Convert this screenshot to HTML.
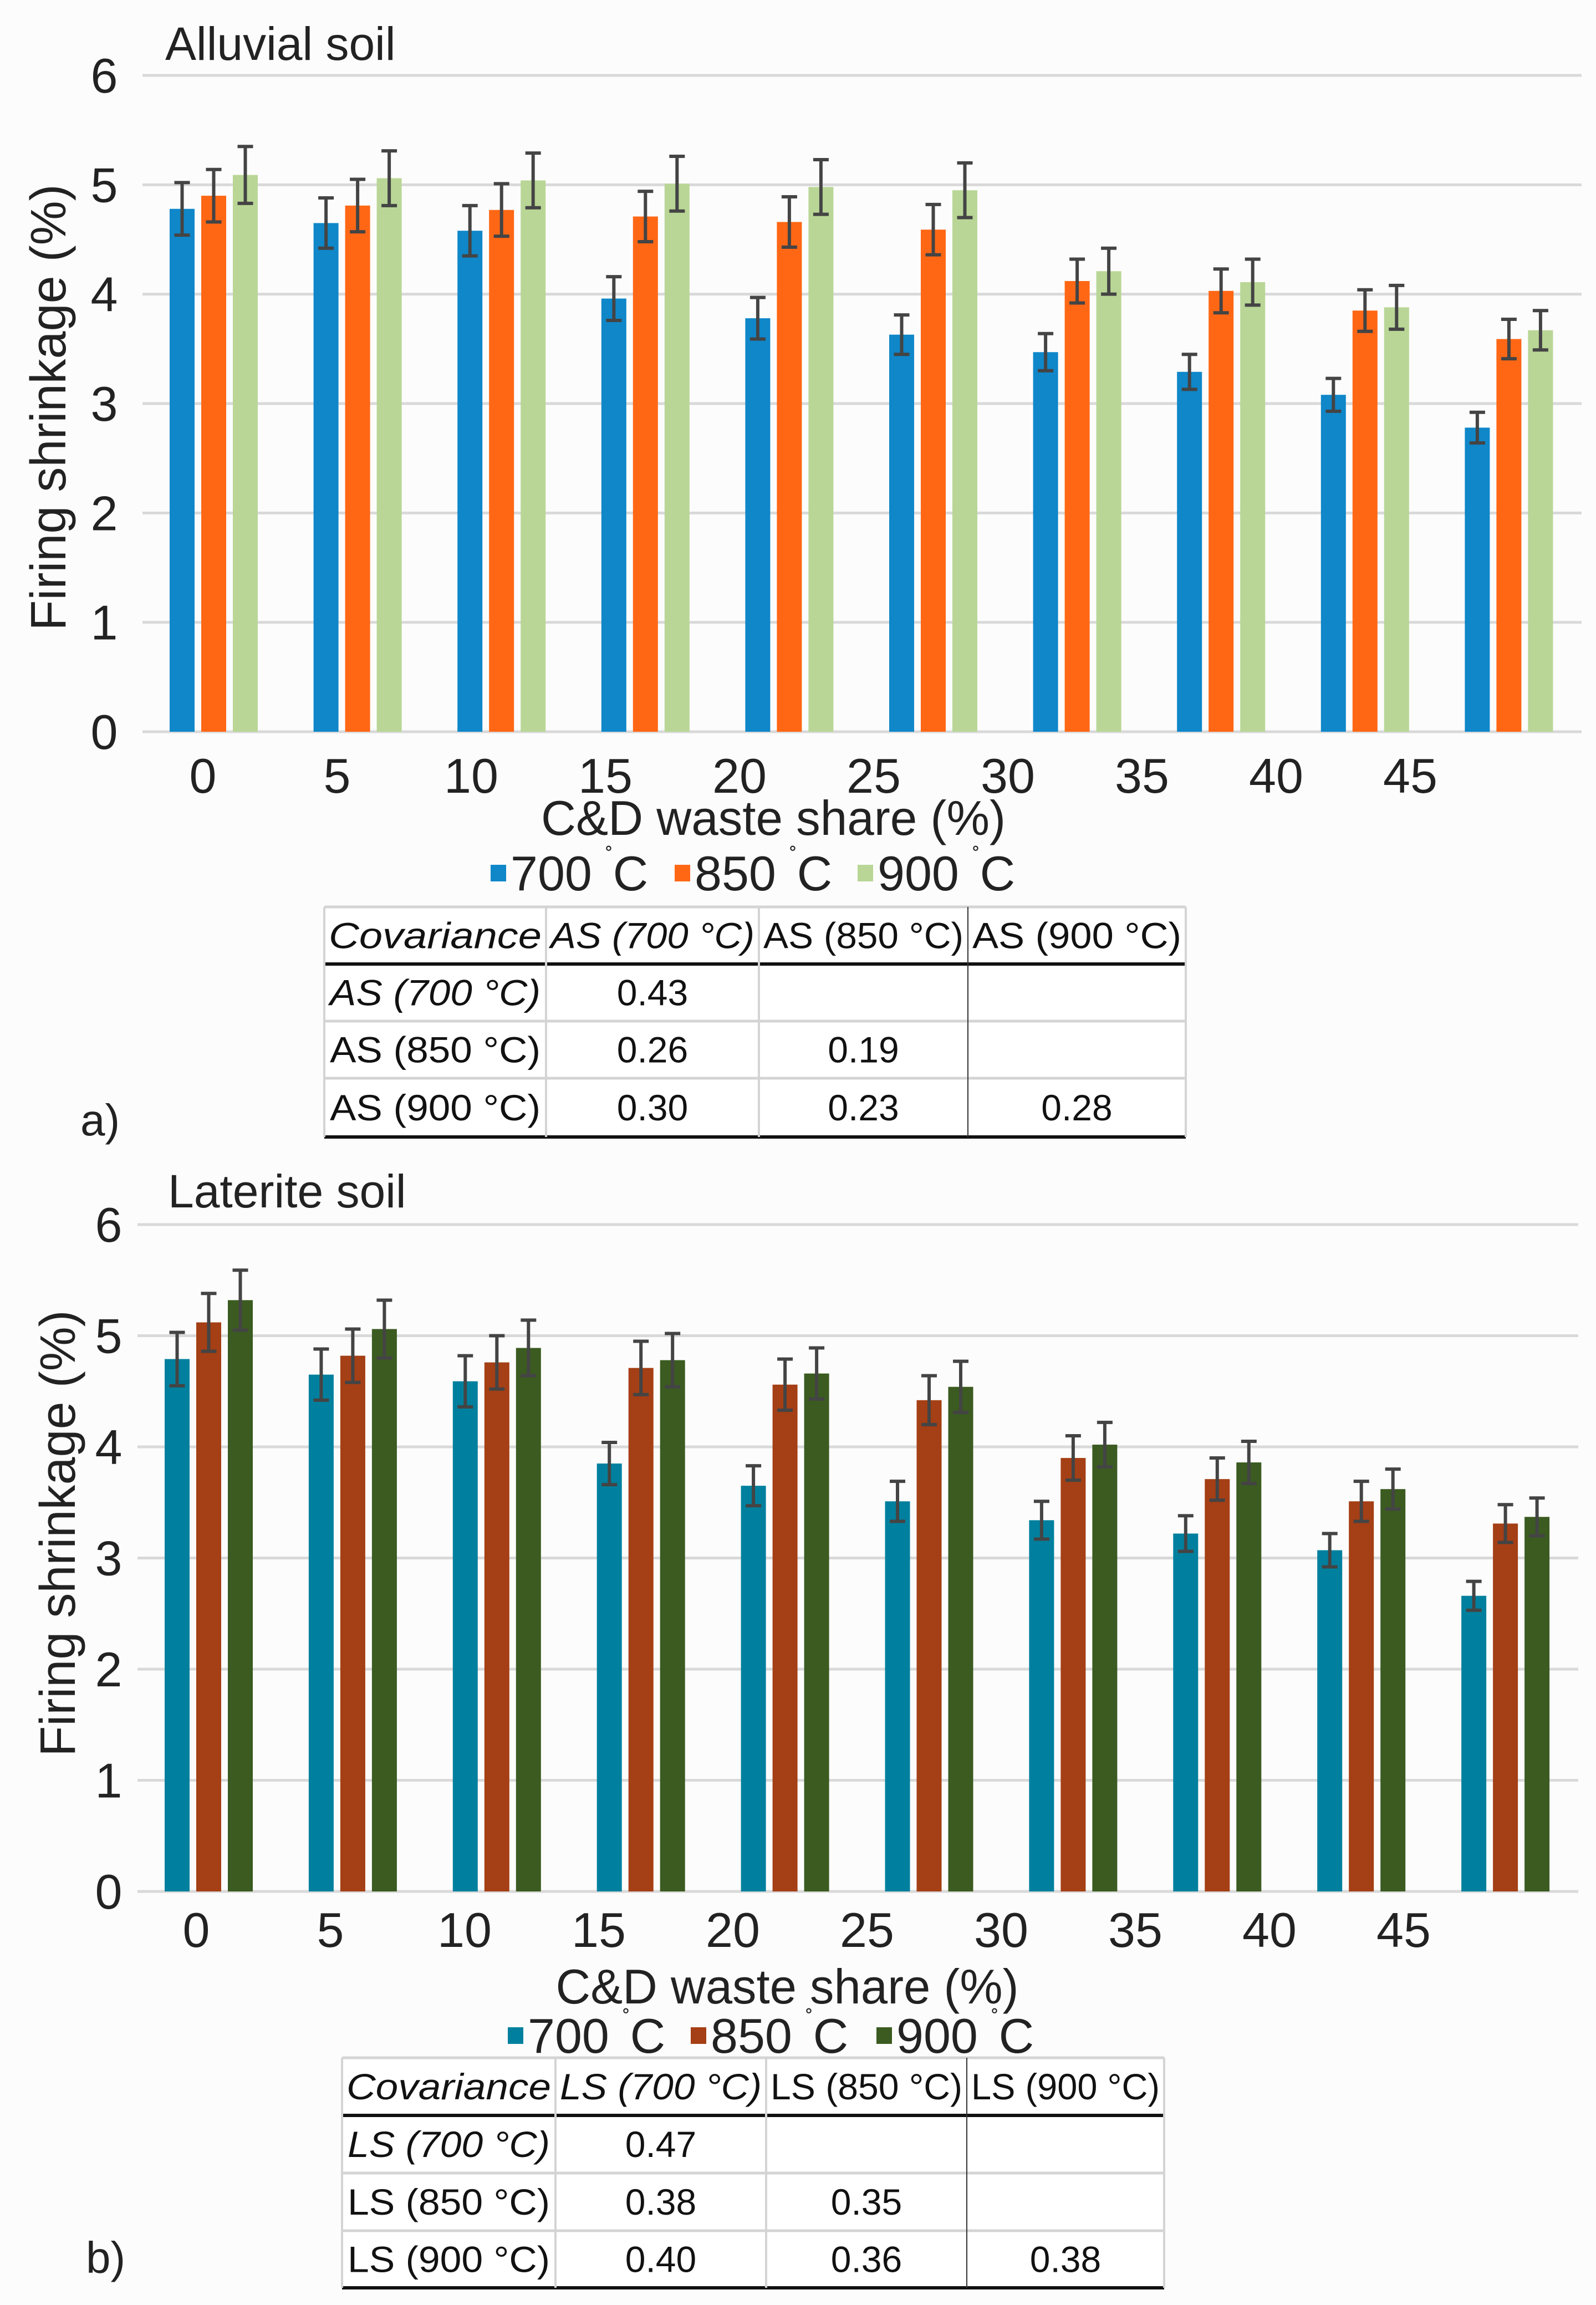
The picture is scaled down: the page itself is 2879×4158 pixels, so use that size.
<!DOCTYPE html>
<html><head><meta charset="utf-8"><style>
html,body{margin:0;padding:0;background:#fcfcfc}
svg{display:block;font-family:"Liberation Sans",sans-serif}
</style></head><body>
<svg id="fig" width="2879" height="4158" viewBox="0 0 2879 4158" xmlns="http://www.w3.org/2000/svg">
<rect x="0" y="0" width="2879" height="4158" fill="#fcfcfc"/>
<g id="chartA"></g>
<g id="chartB"></g>
<g id="tableA"></g>
<g id="tableB"></g>
<text x="145" y="2048" font-size="80" fill="#222">a)</text>
<text x="155" y="4100" font-size="80" fill="#222">b)</text>
</svg>
<script>
const categories = ["0","5","10","15","20","25","30","35","40","45"];
const yTicks = [0,1,2,3,4,5,6];
const seriesNames = ["700","850","900"];
const a700 = [4.78,4.65,4.58,3.96,3.78,3.63,3.47,3.29,3.08,2.78];
const a850 = [4.90,4.81,4.77,4.71,4.66,4.59,4.12,4.03,3.85,3.59];
const a900 = [5.09,5.06,5.04,5.01,4.98,4.95,4.21,4.11,3.88,3.67];
const aErr700 = [0.24,0.23,0.23,0.20,0.19,0.18,0.17,0.16,0.15,0.14];
const aErr850 = [0.24,0.24,0.24,0.23,0.23,0.23,0.20,0.20,0.19,0.18];
const aErr900 = [0.26,0.25,0.25,0.25,0.25,0.25,0.21,0.21,0.20,0.18];
const b700 = [4.79,4.65,4.59,3.85,3.65,3.51,3.34,3.22,3.07,2.66];
const b850 = [5.12,4.82,4.76,4.71,4.56,4.42,3.90,3.71,3.51,3.31];
const b900 = [5.32,5.06,4.89,4.78,4.66,4.54,4.02,3.86,3.62,3.37];
const bErr700 = [0.24,0.23,0.23,0.19,0.18,0.18,0.17,0.16,0.15,0.13];
const bErr850 = [0.26,0.24,0.24,0.24,0.23,0.22,0.20,0.19,0.18,0.17];
const bErr900 = [0.27,0.26,0.25,0.24,0.23,0.23,0.20,0.19,0.18,0.17];
const covA = [["0.43","",""],["0.26","0.19",""],["0.30","0.23","0.28"]];
const covB = [["0.47","",""],["0.38","0.35",""],["0.40","0.36","0.38"]];

const NS="http://www.w3.org/2000/svg";
function mk(parent,tag,attrs,text){const e=document.createElementNS(NS,tag);for(const k in attrs)e.setAttribute(k,attrs[k]);if(text!==undefined)e.textContent=text;parent.appendChild(e);return e;}

function drawChart(g,cfg){
  const {left,right,top,bottom,vals,errs,colors,title,titleX,titleY,yTitleX,yTitleY,xLabY,tickX0,tickStep,xTitleY,xTitleCX,xTitleW,legY,legX,prefix,tickLabelX} = cfg;
  const yScale=v=>bottom-(v/6)*(bottom-top);
  const catW=(right-left)/categories.length;
  const xCat=i=>left+i*catW;
  yTicks.forEach(t=>{
    const l=mk(g,'line',{x1:left,x2:right,y1:yScale(t),y2:yScale(t),stroke:'#d9d9d9','stroke-width':5});
    
    
    const tx=mk(g,'text',{x:tickLabelX,y:yScale(t)+31,'font-size':88,'text-anchor':'middle',fill:'#222'},String(t));
    
    
  });
  categories.forEach((c,i)=>{
    vals.forEach((s,k)=>{
      const x=xCat(i)+49+k*57;
      const r=mk(g,'rect',{x:x,y:yScale(s[i]),width:45,height:yScale(0)-yScale(s[i]),fill:colors[k]});
      
      
      const cx=x+22.5, e=errs[k][i];
      const eb=mk(g,'path',{d:`M${cx-14},${yScale(s[i]+e)}H${cx+14}M${cx},${yScale(s[i]+e)}V${yScale(s[i]-e)}M${cx-14},${yScale(s[i]-e)}H${cx+14}`,stroke:'#444','stroke-width':6,fill:'none'});
      
      
    });
    const t=mk(g,'text',{x:tickX0+i*tickStep,y:xLabY,'font-size':88,'text-anchor':'middle',fill:'#222'},c);
    
    
  });
  const tt=mk(g,'text',{x:titleX,y:titleY,'font-size':84,fill:'#222'},title);
  
  
  const yt=mk(g,'text',{x:0,y:0,'font-size':90,'text-anchor':'middle',fill:'#222',transform:`translate(${yTitleX},${yTitleY}) rotate(-90)`},'Firing shrinkage (%)');
  
  
  const xt=mk(g,'text',{x:xTitleCX-xTitleW/2,y:xTitleY,'font-size':88,fill:'#222',textLength:xTitleW,lengthAdjust:'spacingAndGlyphs'},'C&D waste share (%)');
  
  
  seriesNames.forEach((n,k)=>{
    const lx=legX[k];
    const sq=mk(g,'rect',{x:lx,y:legY-14,width:28,height:30,fill:colors[k]});
    
    
    const lt=mk(g,'text',{x:lx+36,y:legY+32,'font-size':88,fill:'#222'});
    
    
    mk(lt,'tspan',{},n+' ');
    mk(lt,'tspan',{'font-size':40,dy:-48},'˚');
    mk(lt,'tspan',{dy:48},'C');
  });
}

function drawTable(g,cfg){
  const {x0,colX,rowY,head,rowHead,cells,prefix,italicHeadCols} = cfg;
  const x1=colX[colX.length-1];
  const bg=mk(g,'rect',{x:x0,y:rowY[0],width:x1-x0,height:rowY[rowY.length-1]-rowY[0],fill:'#fff'});
  
  
  for(let r=1;r<rowY.length-1;r++){
    const l=mk(g,'line',{x1:x0,x2:x1,y1:rowY[r],y2:rowY[r],stroke:r===1?'#111':'#d4d4d4','stroke-width':r===1?6:5});
    
    
  }
  const tl=mk(g,'line',{x1:x0,x2:x1,y1:rowY[0],y2:rowY[0],stroke:'#d4d4d4','stroke-width':5});
  
  
  const bl=mk(g,'line',{x1:x0,x2:x1,y1:rowY[rowY.length-1],y2:rowY[rowY.length-1],stroke:'#111','stroke-width':6});
  
  
  const allX=[x0].concat(colX);
  allX.forEach((cx,i)=>{
    const l=mk(g,'line',{x1:cx,x2:cx,y1:rowY[0],y2:rowY[rowY.length-1],stroke:i===3?'#333':'#d4d4d4','stroke-width':i===3?2:4});
    
    
  });
  const fs=66;
  head.forEach((h,i)=>{
    const cx=(allX[i]+allX[i+1])/2;
    const t=mk(g,'text',{x:cx,y:(rowY[0]+rowY[1])/2+23,'font-size':fs,'text-anchor':'middle',fill:'#111','font-style':italicHeadCols.includes(i)?'italic':'normal',textLength:(allX[i+1]-allX[i]-16),lengthAdjust:'spacingAndGlyphs'},h);
    
    
  });
  rowHead.forEach((h,r)=>{
    const cy=(rowY[r+1]+rowY[r+2])/2+23;
    const t=mk(g,'text',{x:(allX[0]+allX[1])/2,y:cy,'font-size':fs,'text-anchor':'middle',fill:'#111','font-style':r===0?'italic':'normal',textLength:(allX[1]-allX[0]-20),lengthAdjust:'spacingAndGlyphs'},h);
    
    
    cells[r].forEach((v,c)=>{
      if(!v)return;
      const ct=mk(g,'text',{x:(allX[c+1]+allX[c+2])/2,y:cy,'font-size':fs,'text-anchor':'middle',fill:'#111'},v);
      
      
    });
  });
}

drawChart(document.getElementById('chartA'),{left:257,right:2853,top:136,bottom:1320,vals:[a700,a850,a900],errs:[aErr700,aErr850,aErr900],
  colors:['#0f87c9','#ff6715','#b9d696'],title:'Alluvial soil',titleX:298,titleY:108,yTitleX:118,yTitleY:735,xLabY:1430,tickX0:366,tickStep:242,
  xTitleY:1506,xTitleCX:1395,xTitleW:838,legY:1574,legX:[885,1217,1547],prefix:'as',tickLabelX:188});
drawChart(document.getElementById('chartB'),{left:248,right:2847,top:2209,bottom:3412,vals:[b700,b850,b900],errs:[bErr700,bErr850,bErr900],
  colors:['#00809e','#a53f15','#3b5b20'],title:'Laterite soil',titleX:303,titleY:2178,yTitleX:135,yTitleY:2766,xLabY:3512,tickX0:354,tickStep:242,
  xTitleY:3614,xTitleCX:1420,xTitleW:835,legY:3671,legX:[916,1246,1581],prefix:'ls',tickLabelX:196});
drawTable(document.getElementById('tableA'),{x0:585,colX:[985,1369,1746,2139],rowY:[1636,1739,1842,1945,2051],
  head:['Covariance','AS (700 °C)','AS (850 °C)','AS (900 °C)'],rowHead:['AS (700 °C)','AS (850 °C)','AS (900 °C)'],cells:covA,prefix:'as',italicHeadCols:[0,1]});
drawTable(document.getElementById('tableB'),{x0:617,colX:[1002,1382,1744,2100],rowY:[3712,3816,3920,4024,4127],
  head:['Covariance','LS (700 °C)','LS (850 °C)','LS (900 °C)'],rowHead:['LS (700 °C)','LS (850 °C)','LS (900 °C)'],cells:covB,prefix:'ls',italicHeadCols:[0,1]});
</script>
</body></html>
